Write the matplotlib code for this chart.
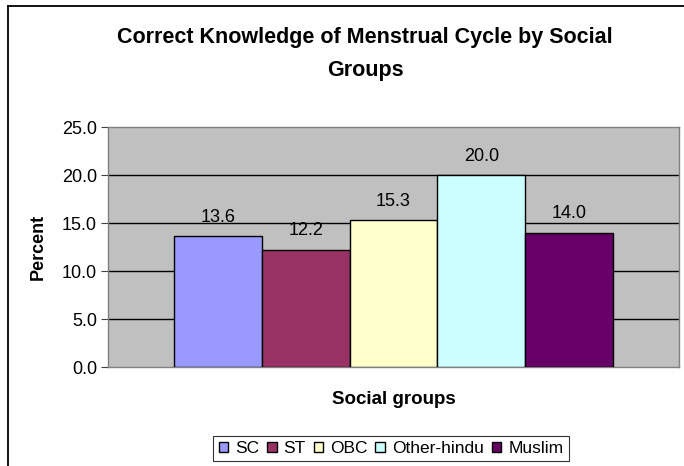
import matplotlib
matplotlib.use("Agg")
import matplotlib.pyplot as plt
from matplotlib.lines import Line2D

categories = ["SC", "ST", "OBC", "Other-hindu", "Muslim"]
values = [13.6, 12.2, 15.3, 20.0, 14.0]
colors = ["#9999FF", "#993366", "#FFFFCC", "#CCFFFF", "#660066"]
yticks = [0, 5, 10, 15, 20, 25]

plt.rcParams['font.family'] = ['Liberation Sans', 'DejaVu Sans']

W, H = 684, 466
fig = plt.figure(figsize=(W/100, H/100), dpi=100)
fig.patch.set_facecolor("white")

# outer chart border (only left and top edges are visible in the crop)
fig.add_artist(Line2D([7.5/W, 7.5/W], [0, 1 - 5.5/H], transform=fig.transFigure, color="black", linewidth=1.3))
fig.add_artist(Line2D([7.5/W, 1], [1 - 5.5/H, 1 - 5.5/H], transform=fig.transFigure, color="black", linewidth=1.3))

ax = fig.add_axes([108/W, 1 - 367/H, (679-108)/W, (367-127)/H])
ax.set_facecolor("#C0C0C0")
for s in ax.spines.values():
    s.set_color("#808080")
    s.set_linewidth(1.0)

handles = []
for i, (c, v, col) in enumerate(zip(categories, values, colors)):
    b = ax.bar(i, v, width=1.0, color=col, edgecolor="black", linewidth=1.0, label=c, zorder=3)
    handles.append(b)
    ax.text(i, v + 1.5, f"{v:.1f}", ha="center", va="baseline", fontsize=13, zorder=4)

ax.set_xlim(-1.25, 5.25)
ax.set_ylim(0, 25)
ax.set_yticks(yticks)
ax.set_yticklabels([f"{t:.1f}" for t in yticks], fontsize=13)
ax.set_xticks([])
ax.tick_params(axis="y", direction="out", length=5, width=0.8, color="#404040", pad=3)
for t in [5, 10, 15, 20]:
    ax.axhline(t, color="black", linewidth=1.0, zorder=1)

ax.set_xlabel("Social groups", fontsize=13.5, fontweight="bold", labelpad=17)
ax.set_ylabel("Percent", fontsize=13, fontweight="bold", labelpad=11)

fig.text(365/W, 1 - 54/H, "Correct Knowledge of Menstrual Cycle by Social\nGroups",
         ha="center", va="center", fontsize=15.5, fontweight="bold", linespacing=1.7)

leg = fig.legend(handles=handles, labels=categories, loc="center", bbox_to_anchor=(391/W, 1 - 448.5/H),
                 ncol=5, fontsize=12.5, frameon=True, fancybox=False, edgecolor="black",
                 handlelength=0.55, handleheight=0.55, handletextpad=0.4, columnspacing=0.45,
                 borderpad=0.3, borderaxespad=0)
leg.get_frame().set_linewidth(0.8)

fig.savefig("out.png", dpi=100)
